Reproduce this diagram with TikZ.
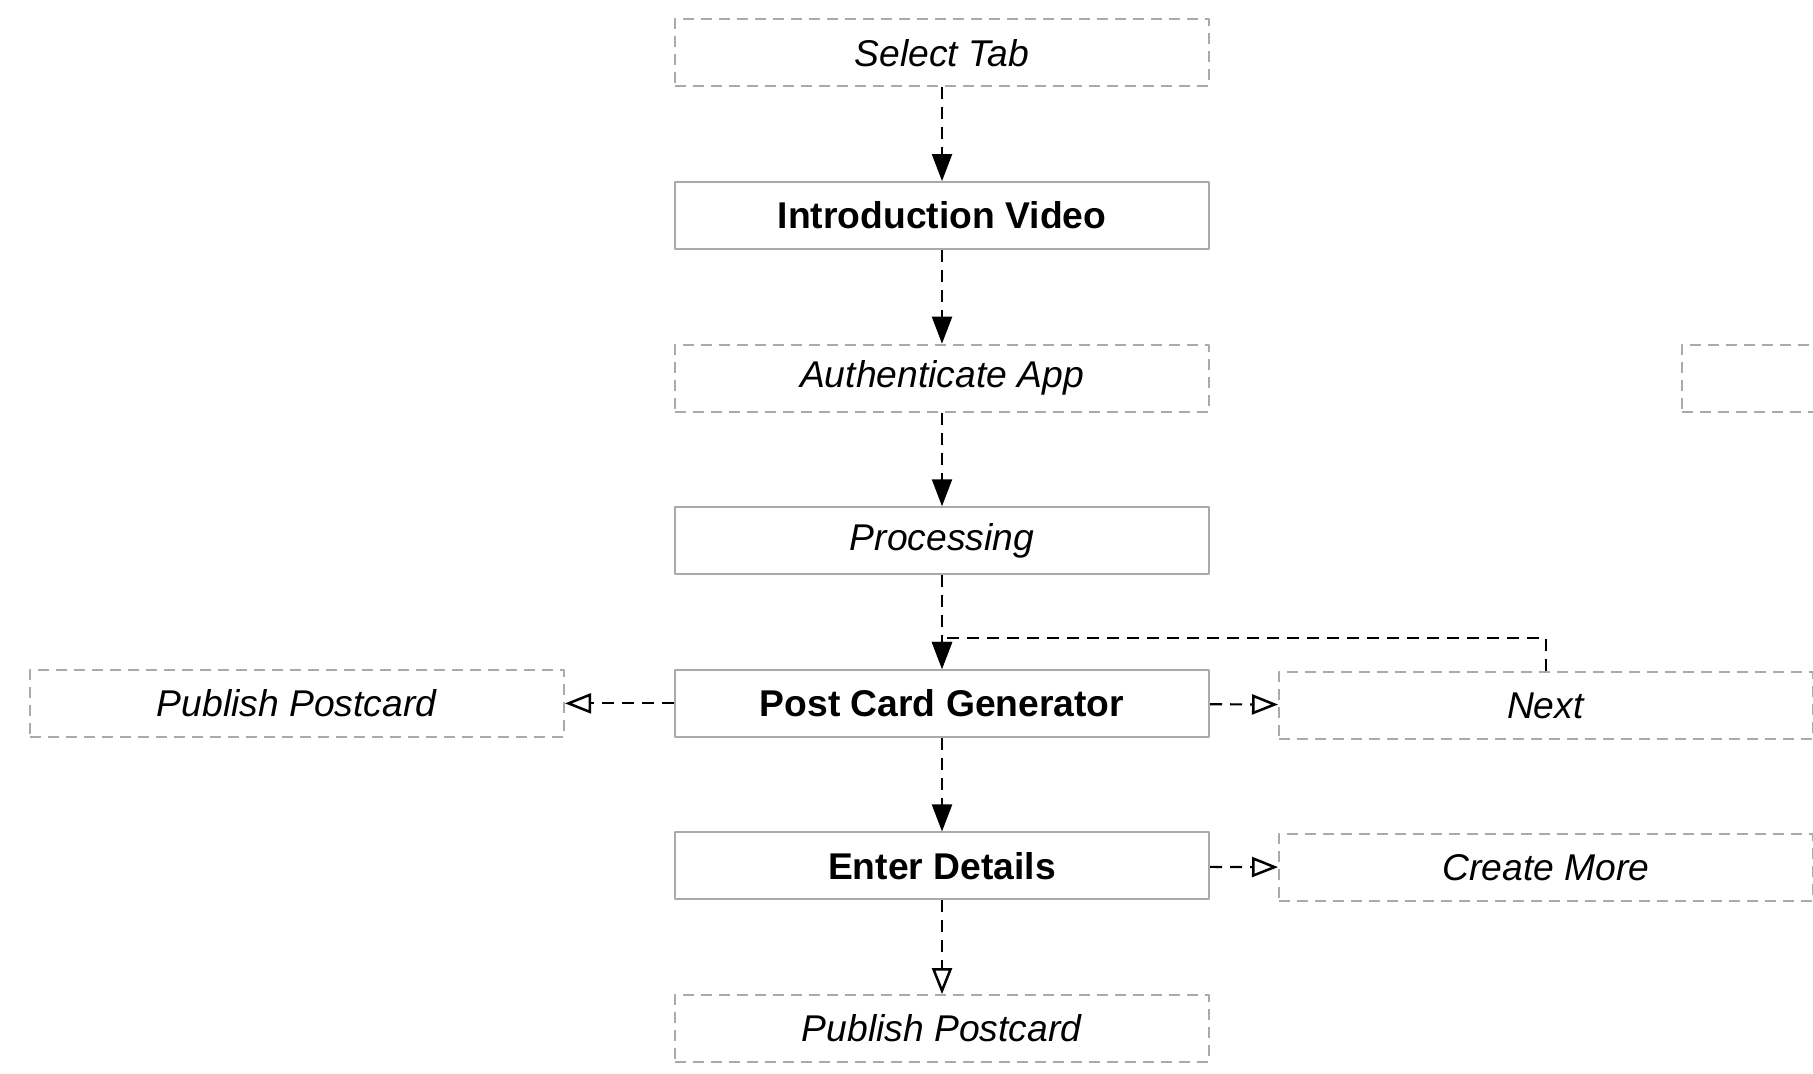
\documentclass[tikz,border=0pt]{standalone}
\usepackage{fontspec}
\setmainfont{Liberation Sans}
\usetikzlibrary{positioning,arrows.meta}
\definecolor{boxgray}{RGB}{170,170,170}
\begin{document}
\begin{tikzpicture}[line join=round,font=\fontsize{10.6}{12.7}\selectfont,node distance=9.36mm,
		box/.style={draw=boxgray,line width=0.2mm,minimum width=53.4mm,minimum height=6.7mm,inner sep=0pt},
		dbox/.style={box,dash pattern=on 1.1mm off 0.7mm},
		flow/.style={line width=0.22mm,dash pattern=on 1.2mm off 0.8mm,-{Triangle[length=2.7mm,width=2mm]}},
		oflow/.style={flow,-{Triangle[open,fill=white,line width=0.25mm,length=2.6mm,width=2mm]}}]
	\useasboundingbox (0,0) rectangle (181.3mm,107.4mm);
	\clip (0,0) rectangle (181.3mm,107.4mm);
	\node[dbox] (tab) at (94.2mm,102.1mm) {\textit{Select Tab}};
	\node[box,below=of tab] (intro) {\textbf{Introduction Video}};
	\node[dbox,below=of intro] (auth) {\textit{Authenticate App}};
	\node[box,below=of auth] (proc) {\textit{Processing}};
	\node[box,below=of proc] (gen) {\textbf{Post Card Generator}};
	\node[box,below=of gen] (details) {\textbf{Enter Details}};
	\node[dbox,below=of details] (pub) {\textit{Publish Postcard}};
	\node[dbox,left=10.9mm of gen] (publeft) {\textit{Publish Postcard}};
	\node[dbox,right=6.8mm of gen,yshift=-0.2mm] (next) {\textit{Next}};
	\node[dbox,right=6.8mm of details,yshift=-0.2mm] (more) {\textit{Create More}};
	\node[dbox,right=47.1mm of auth] (far) {};
	\coordinate[right=5mm of more] (moreout);
	
	\foreach \a/\b in {tab/intro,intro/auth,auth/proc,proc/gen,gen/details}
	\draw[flow] (\a) -- (\b);
	\draw[oflow] (details) -- (pub);
	\draw[oflow] (gen) -- (publeft);
	\draw[oflow] (gen) -- (next);
	\draw[oflow] (details) -- (more);
	\draw[flow] (next.north) -- ++(0,3.3mm) -| (gen.north);
	\draw[flow,-] (more) -- (moreout);
\end{tikzpicture}
\end{document}
